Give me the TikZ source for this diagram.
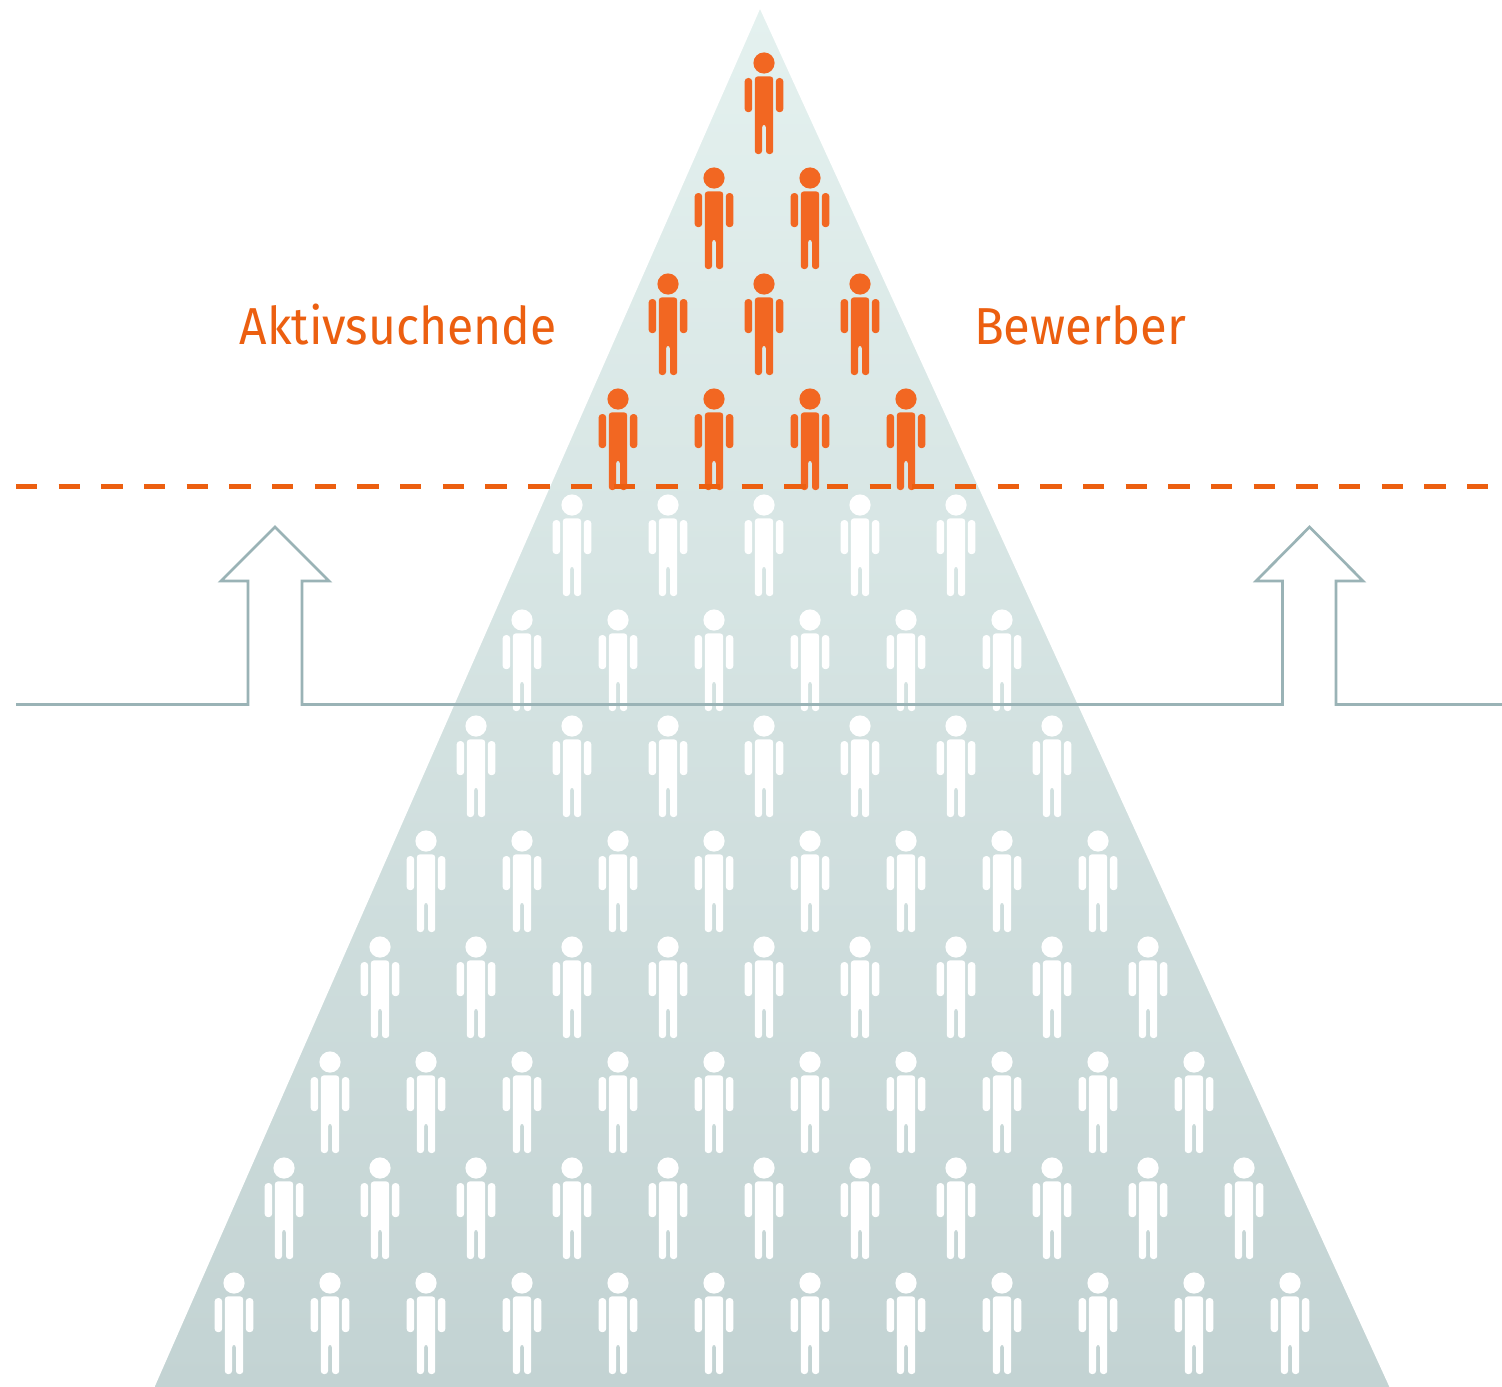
\documentclass[tikz,border=0pt]{standalone}
\usepackage{fontspec}
\setmainfont{Fira Sans}
\definecolor{orangeperson}{HTML}{F26722}
\definecolor{orangeline}{HTML}{EC5F10}
\definecolor{arrowline}{HTML}{9AB3B6}
\definecolor{pyrtop}{HTML}{E4F1EF}
\definecolor{pyrbot}{HTML}{C3D3D3}
\tikzset{
  person/.pic={
    \fill (0,0) circle[radius=10.6];
    \fill[rounded corners=1.5pt] (-9.2,13.4) -- (9.2,13.4) -- (9.2,91) -- (2,91) -- (2,61.5) -- (-2,61.5) -- (-2,91) -- (-9.2,91) -- cycle;
    \fill[rounded corners=1.75pt] (-19.4,15) rectangle (-11.8,49.2);
    \fill[rounded corners=1.75pt] (11.8,15) rectangle (19.4,49.2);
  },
  label text/.style={text=orangeline,font=\fontsize{26}{30}\selectfont,anchor=base,inner sep=0pt},
  arrow outline/.style={draw=arrowline,line width=1.35pt,line join=miter},
  cut line/.style={draw=orangeline,line width=2.6pt,dash pattern=on 10.67pt off 10.67pt}
}
\begin{document}
\begin{tikzpicture}[x=0.5pt,y=-0.5pt]
\useasboundingbox (0,0) rectangle (1502,1386);
% pyramid: shaded block, trimmed to a triangle by white flanks
\shade[top color=pyrtop,bottom color=pyrbot] (155,9) rectangle (1389,1386);
\fill[white] (760,9) -- (155,1386) -- (145,1386) -- (145,5) -- (760,5) -- cycle;
\fill[white] (760,9) -- (1389,1386) -- (1399,1386) -- (1399,5) -- (760,5) -- cycle;
% persons
\foreach \y/\xs in {
  505/{572,668,764,860,956},
  620/{522,618,714,810,906,1002},
  726/{476,572,668,764,860,956,1052},
  841/{426,522,618,714,810,906,1002,1098},
  947/{380,476,572,668,764,860,956,1052,1148},
  1062/{330,426,522,618,714,810,906,1002,1098,1194},
  1168/{284,380,476,572,668,764,860,956,1052,1148,1244},
  1283/{234,330,426,522,618,714,810,906,1002,1098,1194,1290}}{
  \foreach \x in \xs { \pic[white] at (\x,\y) {person}; }
}
\foreach \y/\xs in {
  63/{764},
  178/{714,810},
  284/{668,764,860},
  399/{618,714,810,906}}{
  \foreach \x in \xs { \pic[orangeperson] at (\x,\y) {person}; }
}
% arrows
\draw[arrow outline] (16,704.5) -- (248,704.5) -- (248,581) -- (221,581) -- (275,527) -- (329,581) -- (302,581) -- (302,704.5)
  -- (1282.5,704.5) -- (1282.5,581) -- (1256,581) -- (1309.5,527) -- (1363,581) -- (1336,581) -- (1336,704.5) -- (1502,704.5);
% dashed
\draw[cut line] (16,486.5) -- (1490,486.5);
\node[label text] (aktiv) at (398,344.5) {\addfontfeature{FakeStretch=0.923}Aktivsuchende};
\node[label text] (bew) at (1080,344.5) {\addfontfeature{FakeStretch=0.942}Bewerber};
\end{tikzpicture}
\end{document}
